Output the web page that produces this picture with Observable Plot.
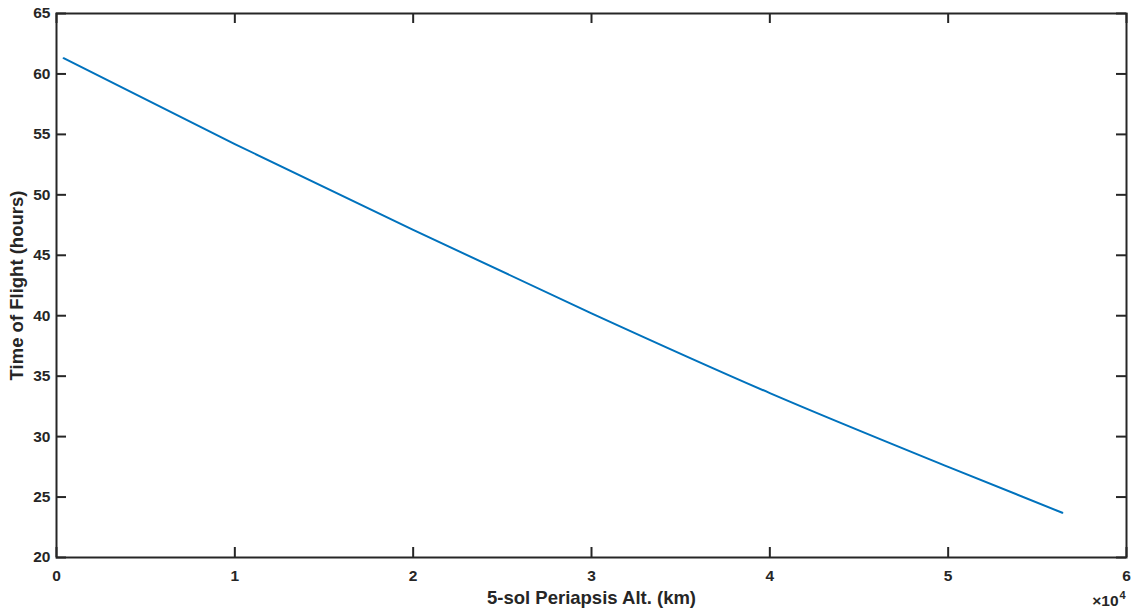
<!DOCTYPE html>
<html>
<head>
<meta charset="utf-8">
<script src="https://cdn.jsdelivr.net/npm/d3@7"></script>
<script src="https://cdn.jsdelivr.net/npm/@observablehq/plot@0.6"></script>
<style>
  html, body { margin: 0; padding: 0; background: #fff; }
</style>
</head>
<body>
<div id="chart"></div>
<script>
// Periapsis altitude (km) and time of flight (hours)
const altitudeKm = [400, 10000, 20000, 30000, 40000, 50000, 56400];
const timeOfFlight = [61.3, 54.2, 47.1, 40.2, 33.6, 27.5, 23.7];
const xTicks = [0, 1, 2, 3, 4, 5, 6];
const yTicks = [20, 25, 30, 35, 40, 45, 50, 55, 60, 65];
const xLabel = "5-sol Periapsis Alt. (km)";
const yLabel = "Time of Flight (hours)";
const xExponent = "4";

const data = altitudeKm.map((a, i) => ({alt: a / 1e4, tof: timeOfFlight[i]}));

const W = 1136, H = 612;
const mL = 56, mR = 10, mT = 13, mB = 55;
const innerW = W - mL - mR, innerH = H - mT - mB;
const ink = "#262626";
const tick = 10;
const font = "'Liberation Sans', Arial, Helvetica, sans-serif";

const chart = Plot.plot({
  width: W,
  height: H,
  marginLeft: mL,
  marginRight: mR,
  marginTop: mT,
  marginBottom: mB,
  style: {fontFamily: font, fontSize: "15.5px", fontWeight: "bold", color: ink, background: "#fff"},
  x: {domain: [0, 6], axis: null},
  y: {domain: [20, 65], axis: null},
  marks: [
    Plot.line(data, {x: "alt", y: "tof", stroke: "#0072BD", strokeWidth: 2, curve: "monotone-x"}),
    // inward ticks on all four sides
    Plot.ruleX(xTicks, {x: d => d, insetTop: innerH - tick, stroke: ink, strokeWidth: 2}),
    Plot.ruleX(xTicks, {x: d => d, insetBottom: innerH - tick, stroke: ink, strokeWidth: 2}),
    Plot.ruleY(yTicks, {y: d => d, insetRight: innerW - tick, stroke: ink, strokeWidth: 2}),
    Plot.ruleY(yTicks, {y: d => d, insetLeft: innerW - tick, stroke: ink, strokeWidth: 2}),
    Plot.frame({stroke: ink, strokeWidth: 2}),
    // tick labels
    Plot.text(xTicks, {x: d => d, text: d => String(d), frameAnchor: "bottom", lineAnchor: "middle", textAnchor: "middle", dy: 19, fontSize: 15.5, fontWeight: "bold", fill: ink}),
    Plot.text(yTicks, {y: d => d, text: d => String(d), frameAnchor: "left", lineAnchor: "middle", textAnchor: "end", dx: -6, fontSize: 15.5, fontWeight: "bold", fill: ink}),
    // axis titles
    Plot.text([xLabel], {frameAnchor: "bottom", lineAnchor: "middle", textAnchor: "middle", dy: 41, fontSize: 18.5, fontWeight: "bold", fill: ink}),
    Plot.text([yLabel], {frameAnchor: "left", lineAnchor: "middle", textAnchor: "middle", rotate: -90, dx: -39, fontSize: 18.5, fontWeight: "bold", fill: ink}),
    // exponent
    Plot.text(["\u00d710"], {frameAnchor: "bottom-right", lineAnchor: "middle", textAnchor: "end", dx: -8, dy: 44, fontSize: 15.5, fontWeight: "bold", fill: ink}),
    Plot.text([xExponent], {frameAnchor: "bottom-right", lineAnchor: "middle", textAnchor: "start", dx: -7, dy: 38, fontSize: 11, fontWeight: "bold", fill: ink})
  ]
});
document.getElementById("chart").appendChild(chart);
</script>
</body>
</html>
